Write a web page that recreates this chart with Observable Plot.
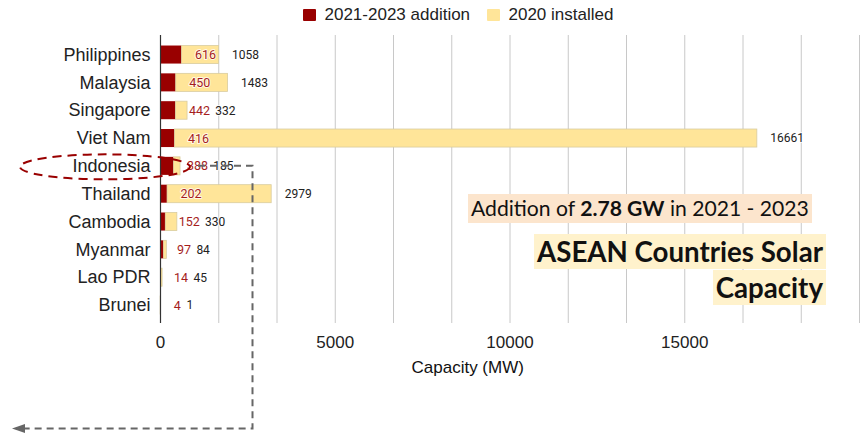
<!DOCTYPE html>
<html>
<head>
<meta charset="utf-8">
<script src="https://cdn.jsdelivr.net/npm/d3@7"></script>
<script src="https://cdn.jsdelivr.net/npm/@observablehq/plot@0.6"></script>
<style>
  html, body { margin: 0; padding: 0; background: #fff; }
  #wrap { position: relative; width: 866px; height: 435px; overflow: hidden; font-family: "Liberation Sans", Arial, sans-serif; color: #222; }
  #legend { position: relative; height: 28px; }
  .lg { position: absolute; top: 6px; display: flex; align-items: center; font-size: 17px; line-height: 18px; white-space: nowrap; }
  .sw { width: 12.5px; height: 12.5px; margin-right: 9px; border-radius: 1px; }
  .note { position: absolute; font-family: Lato, "Noto Sans", sans-serif; color: #111; white-space: nowrap; }
  #sub { left: 468px; top: 194px; height: 29px; line-height: 29px; background: #fce5cd; padding: 0 3px; font-size: 20px; }
  .tl { position: absolute; right: 40px; height: 35px; line-height: 35px; background: #fff2cc; padding: 0 3px; font-weight: 700; font-size: 26px; }
  #t1 { top: 234px; }
  #t2 { top: 269.5px; }
  svg { display: block; }
</style>
</head>
<body>
<div id="wrap">
  <div id="legend"></div>
  <div id="chart"></div>
  <div class="note" id="sub"><span id="subtxt">Addition of <b>2.78 GW</b> in 2021 - 2023</span></div>
  <div class="note tl" id="t1"><span id="t1txt">ASEAN Countries Solar</span></div>
  <div class="note tl" id="t2"><span>Capacity</span></div>
</div>
<script>
// ---- data ----
const countries = ["Philippines", "Malaysia", "Singapore", "Viet Nam", "Indonesia", "Thailand", "Cambodia", "Myanmar", "Lao PDR", "Brunei"];
const addition2021_2023 = [616, 450, 442, 416, 388, 202, 152, 97, 14, 4];
const installed2020 = [1058, 1483, 332, 16661, 185, 2979, 330, 84, 45, 1];
const seriesNames = ["2021-2023 addition", "2020 installed"];
const seriesColors = ["#990000", "#ffe599"];
const xTickLabels = [0, 5000, 10000, 15000];
const xMax = 20000;
const gridStep = 5000 / 3;

// ---- layout ----
const W = 866, H = 407;
const mL = 160, mR = 7, mT = 7, mB = 112;
const pxPerUnit = (W - mL - mR) / xMax;

// legend
const legend = document.getElementById("legend");
const legendPos = [303, 487];
seriesNames.forEach((s, i) => {
  const el = document.createElement("div");
  el.className = "lg";
  el.style.left = legendPos[i] + "px";
  el.innerHTML = `<div class="sw" style="background:${seriesColors[i]}"></div><span>${s}</span>`;
  legend.appendChild(el);
});

// rows for stacking
const rows = countries.flatMap((c, i) => [
  {country: c, series: seriesNames[0], value: addition2021_2023[i]},
  {country: c, series: seriesNames[1], value: installed2020[i]}
]);

// label positions (avoid overlap like the original)
const ctx = document.createElement("canvas").getContext("2d");
ctx.font = "12px Roboto";
const labelOffset = 13, labelGap = 6;
const labels = countries.map((c, i) => {
  const a = addition2021_2023[i], b = installed2020[i];
  const wA = ctx.measureText(String(a)).width;
  const redEndPx = a * pxPerUnit + labelOffset + wA + labelGap;
  const totPx = Math.max((a + b) * pxPerUnit + labelOffset, redEndPx);
  return {country: c, a, b, redX: a, totX: (totPx - labelOffset) / pxPerUnit};
});
const yellowSegs = countries.map((c, i) => ({country: c, x1: addition2021_2023[i], x2: addition2021_2023[i] + installed2020[i]}));

const grid = d3.range(1, Math.round(xMax / gridStep) + 1).map(i => i * gridStep);

const plot = Plot.plot({
  width: W, height: H,
  marginTop: mT, marginBottom: mB, marginLeft: mL, marginRight: mR,
  style: {fontFamily: "'Liberation Sans', Arial, sans-serif", color: "#222", background: "transparent", overflow: "visible"},
  x: {domain: [0, xMax], axis: null},
  y: {domain: countries, paddingInner: 0.352, paddingOuter: 0.35, align: 0.54, round: false, axis: null},
  color: {domain: seriesNames, range: seriesColors},
  marks: [
    Plot.ruleX(grid, {stroke: "#c8c8c8", strokeWidth: 1}),
    Plot.barX(rows, Plot.stackX({x: "value", y: "country", fill: "series"})),
    Plot.barX(yellowSegs, {x1: "x1", x2: "x2", y: "country", fill: "none", stroke: "#d9cc9f", strokeWidth: 0.8}),
    Plot.ruleX([0], {stroke: "#333", strokeWidth: 1.2}),
    Plot.axisX({ticks: xTickLabels, tickSize: 0, tickPadding: 12, fontSize: 17, label: null, tickFormat: d => String(d)}),
    Plot.axisY({tickSize: 0, tickPadding: 10, fontSize: 18, label: null}),
    Plot.text(labels, {x: "redX", y: "country", text: d => String(d.a), dx: labelOffset, textAnchor: "start",
      fill: "#a51d1d", stroke: "white", strokeWidth: 2, strokeOpacity: 0.75, fontFamily: "Roboto", fontSize: 12.5}),
    Plot.text(labels, {x: "totX", y: "country", text: d => String(d.b), dx: labelOffset, textAnchor: "start",
      fill: "#222", stroke: "white", strokeWidth: 2, strokeOpacity: 0.75, fontFamily: "Roboto", fontSize: 12}),
    Plot.text(["Capacity (MW)"], {frameAnchor: "bottom-left", dx: 251, dy: 49, textAnchor: "start", fontSize: 17, fill: "#111"})
  ]
});
document.getElementById("chart").appendChild(plot);

// ---- annotations: dashed ellipse around Indonesia and dashed arrow ----
const ys = plot.scale("y");
const yInd = ys.apply("Indonesia") + ys.bandwidth / 2;
const svg = d3.select(plot);
const ann = svg.append("g");
ann.append("ellipse")
  .attr("cx", 105).attr("cy", yInd + 1).attr("rx", 85).attr("ry", 12.5)
  .attr("fill", "none").attr("stroke", "#990000").attr("stroke-width", 2).attr("stroke-dasharray", "9,6");
const yArrow = H - 6.5;
ann.append("path")
  .attr("d", `M198,${yInd} H252.5 V${yArrow} H24`)
  .attr("fill", "none").attr("stroke", "#666").attr("stroke-width", 2).attr("stroke-dasharray", "7,5");
ann.append("path")
  .attr("d", `M12,${yArrow} L25,${yArrow - 4.5} L25,${yArrow + 4.5} Z`)
  .attr("fill", "#666");

// ---- fit note fonts to the original text widths ----
function fit(spanId, target) {
  const s = document.getElementById(spanId);
  const fs = parseFloat(getComputedStyle(s.parentNode).fontSize);
  const w = s.getBoundingClientRect().width;
  return fs * target / w;
}
const fSub = fit("subtxt", 338);
document.getElementById("sub").style.fontSize = fSub + "px";
const fT = fit("t1txt", 286);
document.getElementById("t1").style.fontSize = fT + "px";
document.getElementById("t2").style.fontSize = fT + "px";
</script>
</body>
</html>
